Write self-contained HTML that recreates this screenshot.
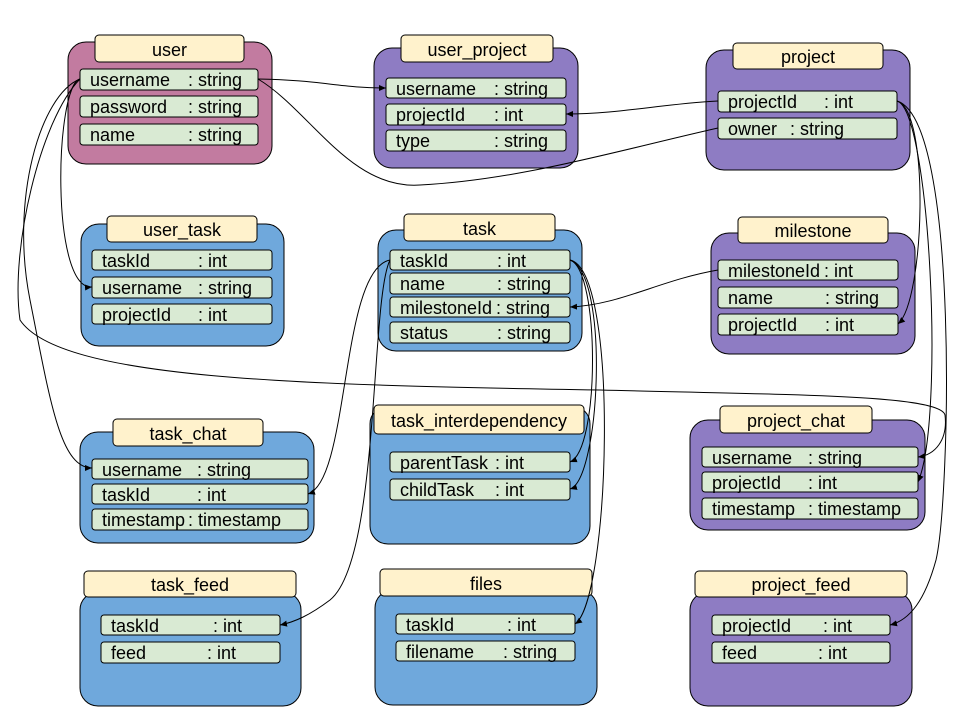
<!DOCTYPE html>
<html><head><meta charset="utf-8"><style>
html,body{margin:0;padding:0;background:#fff;}
svg{display:block;font-family:"Liberation Sans",Arial,sans-serif;}
.f{fill:#d9ead3;stroke:#000;stroke-width:1;}
.h{fill:#fff2cc;stroke:#000;stroke-width:1;}
.b{stroke:#000;stroke-width:1;}
text{font-size:18px;fill:#000;}
.c{fill:none;stroke:#000;stroke-width:1;}
</style></head><body>
<svg width="960" height="720" viewBox="0 0 960 720" xmlns="http://www.w3.org/2000/svg">
<defs><marker id="a" markerWidth="8" markerHeight="8" refX="7" refY="4" orient="auto" markerUnits="userSpaceOnUse"><path d="M0,1 L7,4 L0,7 z" fill="#000"/></marker></defs>

<rect class="b" x="68" y="42" width="204" height="122" rx="18" fill="#c27ba0"/>
<rect class="b" x="374" y="48" width="204" height="120" rx="18" fill="#8e7cc3"/>
<rect class="b" x="706" y="50" width="204" height="120" rx="18" fill="#8e7cc3"/>
<rect class="b" x="81" y="224" width="203" height="122" rx="18" fill="#6fa8dc"/>
<rect class="b" x="378" y="230" width="204" height="121" rx="18" fill="#6fa8dc"/>
<rect class="b" x="711" y="233" width="204" height="121" rx="18" fill="#8e7cc3"/>
<rect class="b" x="80" y="432" width="234" height="111" rx="18" fill="#6fa8dc"/>
<rect class="b" x="370" y="406" width="220" height="138" rx="18" fill="#6fa8dc"/>
<rect class="b" x="690" y="420" width="235" height="110" rx="18" fill="#8e7cc3"/>
<rect class="b" x="80" y="592" width="221" height="114" rx="18" fill="#6fa8dc"/>
<rect class="b" x="375" y="590" width="222" height="115" rx="18" fill="#6fa8dc"/>
<rect class="b" x="690" y="592" width="222" height="114" rx="18" fill="#8e7cc3"/>

<rect class="h" x="95" y="35" width="149" height="27" rx="4"/><text x="169.5" y="56" text-anchor="middle">user</text>
<rect class="h" x="401" y="35" width="152" height="27" rx="4"/><text x="477" y="56" text-anchor="middle">user_project</text>
<rect class="h" x="733" y="43" width="150" height="26" rx="4"/><text x="808" y="63" text-anchor="middle">project</text>
<rect class="h" x="107" y="216" width="150" height="26" rx="4"/><text x="182" y="236" text-anchor="middle">user_task</text>
<rect class="h" x="404" y="214" width="151" height="27" rx="4"/><text x="479.5" y="235" text-anchor="middle">task</text>
<rect class="h" x="738" y="217" width="150" height="26" rx="4"/><text x="813" y="237" text-anchor="middle">milestone</text>
<rect class="h" x="113" y="419" width="150" height="27" rx="4"/><text x="188" y="440" text-anchor="middle">task_chat</text>
<rect class="h" x="374" y="405" width="210" height="29" rx="4"/><text x="479" y="427" text-anchor="middle">task_interdependency</text>
<rect class="h" x="720" y="406" width="152" height="27" rx="4"/><text x="796" y="427" text-anchor="middle">project_chat</text>
<rect class="h" x="84" y="571" width="212" height="26" rx="4"/><text x="190" y="591" text-anchor="middle">task_feed</text>
<rect class="h" x="380" y="569" width="212" height="27" rx="4"/><text x="486" y="590" text-anchor="middle">files</text>
<rect class="h" x="695" y="571" width="212" height="26" rx="4"/><text x="801" y="591" text-anchor="middle">project_feed</text>

<g>
<rect class="f" x="80" y="69" width="178" height="21" rx="3"/><text x="90" y="86">username</text><text x="188" y="86">: string</text>
<rect class="f" x="80" y="96" width="178" height="21" rx="3"/><text x="90" y="113">password</text><text x="188" y="113">: string</text>
<rect class="f" x="80" y="124" width="178" height="21" rx="3"/><text x="90" y="141">name</text><text x="188" y="141">: string</text>

<rect class="f" x="386" y="78" width="180" height="20" rx="3"/><text x="396" y="95">username</text><text x="494" y="95">: string</text>
<rect class="f" x="386" y="104" width="180" height="21" rx="3"/><text x="396" y="121">projectId</text><text x="494" y="121">: int</text>
<rect class="f" x="386" y="130" width="180" height="21" rx="3"/><text x="396" y="147">type</text><text x="494" y="147">: string</text>

<rect class="f" x="718" y="91" width="179" height="21" rx="3"/><text x="728" y="108">projectId</text><text x="824" y="108">: int</text>
<rect class="f" x="718" y="118" width="179" height="21" rx="3"/><text x="728" y="135">owner</text><text x="790" y="135">: string</text>

<rect class="f" x="92" y="250" width="180" height="20" rx="3"/><text x="102" y="267">taskId</text><text x="198" y="267">: int</text>
<rect class="f" x="92" y="277" width="180" height="21" rx="3"/><text x="102" y="294">username</text><text x="198" y="294">: string</text>
<rect class="f" x="92" y="304" width="180" height="20" rx="3"/><text x="102" y="321">projectId</text><text x="198" y="321">: int</text>

<rect class="f" x="390" y="250" width="180" height="20" rx="3"/><text x="400" y="267">taskId</text><text x="497" y="267">: int</text>
<rect class="f" x="390" y="273" width="180" height="21" rx="3"/><text x="400" y="290">name</text><text x="497" y="290">: string</text>
<rect class="f" x="390" y="297" width="180" height="20" rx="3"/><text x="400" y="314">milestoneId</text><text x="496" y="314">: string</text>
<rect class="f" x="390" y="322" width="180" height="21" rx="3"/><text x="400" y="339">status</text><text x="497" y="339">: string</text>

<rect class="f" x="718" y="260" width="180" height="20" rx="3"/><text x="728" y="277">milestoneId</text><text x="824" y="277">: int</text>
<rect class="f" x="718" y="287" width="180" height="21" rx="3"/><text x="728" y="304">name</text><text x="825" y="304">: string</text>
<rect class="f" x="718" y="314" width="180" height="21" rx="3"/><text x="728" y="331">projectId</text><text x="825" y="331">: int</text>

<rect class="f" x="92" y="459" width="216" height="20" rx="3"/><text x="102" y="476">username</text><text x="197" y="476">: string</text>
<rect class="f" x="92" y="484" width="216" height="20" rx="3"/><text x="102" y="501">taskId</text><text x="197" y="501">: int</text>
<rect class="f" x="92" y="509" width="216" height="21" rx="3"/><text x="102" y="526">timestamp</text><text x="188" y="526">: timestamp</text>

<rect class="f" x="390" y="452" width="180" height="20" rx="3"/><text x="400" y="469">parentTask</text><text x="495" y="469">: int</text>
<rect class="f" x="390" y="479" width="180" height="21" rx="3"/><text x="400" y="496">childTask</text><text x="495" y="496">: int</text>

<rect class="f" x="702" y="447" width="216" height="20" rx="3"/><text x="712" y="464">username</text><text x="808" y="464">: string</text>
<rect class="f" x="702" y="472" width="216" height="20" rx="3"/><text x="712" y="489">projectId</text><text x="808" y="489">: int</text>
<rect class="f" x="702" y="498" width="216" height="21" rx="3"/><text x="712" y="515">timestamp</text><text x="808" y="515">: timestamp</text>

<rect class="f" x="101" y="615" width="179" height="20" rx="3"/><text x="111" y="632">taskId</text><text x="213" y="632">: int</text>
<rect class="f" x="101" y="642" width="179" height="21" rx="3"/><text x="111" y="659">feed</text><text x="207" y="659">: int</text>

<rect class="f" x="396" y="614" width="179" height="20" rx="3"/><text x="406" y="631">taskId</text><text x="507" y="631">: int</text>
<rect class="f" x="396" y="641" width="179" height="20" rx="3"/><text x="406" y="658">filename</text><text x="503" y="658">: string</text>

<rect class="f" x="712" y="615" width="178" height="20" rx="3"/><text x="722" y="632">projectId</text><text x="823" y="632">: int</text>
<rect class="f" x="712" y="642" width="178" height="21" rx="3"/><text x="722" y="659">feed</text><text x="818" y="659">: int</text>
</g>

<path class="c" marker-end="url(#a)" d="M258,79 C320,80 340,88 386,88"/>
<path class="c" d="M258,79 C310,110 350,190 420,185 C520,180 620,150 718,128"/>
<path class="c" marker-end="url(#a)" d="M718,101 C660,104 620,114 566,114"/>
<path class="c" marker-end="url(#a)" d="M80,79 C55,85 50,290 92,287"/>
<path class="c" marker-end="url(#a)" d="M80,79 C40,95 10,200 30,300 C50,400 60,468 92,468"/>
<path class="c" marker-end="url(#a)" d="M80,79 C40,120 10,250 20,320 C60,380 300,385 600,390 C800,395 940,395 945,415 C948,440 935,455 918,457"/>
<path class="c" marker-end="url(#a)" d="M897,101 C930,110 925,300 898,324"/>
<path class="c" marker-end="url(#a)" d="M897,101 C930,110 945,420 918,482"/>
<path class="c" marker-end="url(#a)" d="M897,101 C960,120 950,500 936,560 C925,600 910,620 890,625"/>
<path class="c" marker-end="url(#a)" d="M718,270 C660,280 620,305 570,307"/>
<path class="c" marker-end="url(#a)" d="M390,260 C340,270 350,480 308,494"/>
<path class="c" marker-end="url(#a)" d="M390,260 C370,300 380,560 330,600 C310,615 295,622 280,625"/>
<path class="c" marker-end="url(#a)" d="M570,260 C600,270 600,450 570,462"/>
<path class="c" marker-end="url(#a)" d="M570,260 C610,275 600,480 570,489"/>
<path class="c" marker-end="url(#a)" d="M570,260 C620,270 610,600 575,624"/>
</svg>
</body></html>
